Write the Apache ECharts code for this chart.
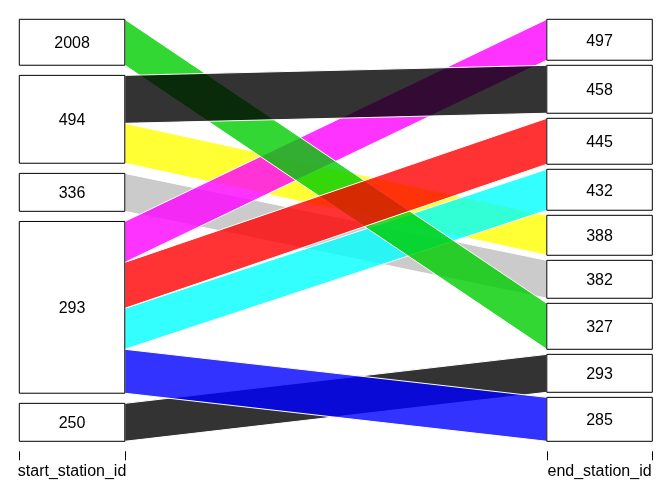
<!DOCTYPE html>
<html>
<head>
<meta charset="utf-8">
<script src="https://cdn.jsdelivr.net/npm/echarts@6/dist/echarts.min.js"></script>
<style>
  html, body {margin: 0; padding: 0; background: #fff;}
  #chart {width: 672px; height: 480px;}
</style>
</head>
<body>
<div id="chart"></div>
<script>
// one row per alluvium, in drawing order (first = bottom layer)
const startIds = ["250", "293", "336", "494", "293", "293", "2008", "293", "494"];
const endIds = ["293", "285", "382", "388", "432", "497", "327", "445", "458"];
const freqs = [38, 44, 38, 40, 41, 41, 46, 46, 48];
const axisNames = ["start_station_id", "end_station_id"];

const flowColors = [
  "rgba(0,0,0,0.8)", "rgba(0,0,255,0.8)", "rgba(190,190,190,0.8)",
  "rgba(255,255,0,0.8)", "rgba(0,255,255,0.8)", "rgba(255,0,255,0.8)",
  "rgba(0,205,0,0.8)", "rgba(255,0,0,0.8)", "rgba(0,0,0,0.8)",
];

const GAP = 0.096;   // share of the axis height used by gaps
const CW = 0.1;      // half width of a stratum box
const total = freqs.reduce((a, b) => a + b, 0);

// stack the alluvia on one axis: strata sorted high to low, inside a stratum by the other axis
const stackAxis = (own, other) => {
  const order = own.map((_, i) => i).sort((a, b) =>
    (Number(own[b]) - Number(own[a])) || (Number(other[b]) - Number(other[a])));
  const nStrata = new Set(own).size;
  const gapEach = GAP / (nStrata - 1);
  const pos = [];
  const boxes = [];
  let y = 0;
  let prev = null;
  order.forEach((idx) => {
    if (prev !== null && own[idx] !== prev) {
      y += gapEach;
    }
    if (own[idx] !== prev) {
      boxes.push({label: own[idx], y0: y, y1: y});
    }
    const h = freqs[idx] / total * (1 - GAP);
    pos[idx] = [y, y + h];
    y += h;
    boxes[boxes.length - 1].y1 = y;
    prev = own[idx];
  });
  return {pos, boxes};
};

const left = stackAxis(startIds, endIds);
const right = stackAxis(endIds, startIds);

const boxData = [];
left.boxes.forEach((b) => boxData.push([1, b.y0, b.y1, b.label]));
right.boxes.forEach((b) => boxData.push([2, b.y0, b.y1, b.label]));

// ticks sit at both edges of every axis box
const tickData = [[1 - CW], [1 + CW], [2 - CW], [2 + CW]];

const chart = echarts.init(document.getElementById("chart"), null, {renderer: "canvas"});

const option = {
  animation: false,
  backgroundColor: "#fff",
  grid: {left: 19.3, right: 19.7, top: 19.3, bottom: 38.7},
  xAxis: {
    type: "value",
    min: 1 - CW,
    max: 2 + CW,
    offset: 10,
    axisLine: {show: false},
    splitLine: {show: false},
    axisTick: {show: false},
    axisLabel: {
      customValues: [1, 2],
      formatter: (v) => axisNames[Math.round(v) - 1],
      margin: 12,
      fontSize: 16,
      fontFamily: "Liberation Sans, Arial, sans-serif",
      color: "#000",
    },
  },
  yAxis: {type: "value", min: 0, max: 1, inverse: true, show: false},
  series: [
    {
      type: "custom",
      name: "flows",
      silent: true,
      data: freqs.map((_, i) => [i]),
      renderItem: (params, api) => {
        const i = api.value(0);
        const l = left.pos[i];
        const r = right.pos[i];
        const points = [
          api.coord([1 + CW, l[0]]),
          api.coord([2 - CW, r[0]]),
          api.coord([2 - CW, r[1]]),
          api.coord([1 + CW, l[1]]),
        ];
        return {
          type: "polygon",
          shape: {points},
          style: {fill: flowColors[i], stroke: "#fff", lineWidth: 1},
        };
      },
    },
    {
      type: "custom",
      name: "strata",
      silent: true,
      data: boxData,
      renderItem: (params, api) => {
        const ax = api.value(0);
        const p0 = api.coord([ax - CW, api.value(1)]);
        const p1 = api.coord([ax + CW, api.value(2)]);
        return {
          type: "group",
          children: [
            {
              type: "rect",
              shape: {x: p0[0], y: p0[1], width: p1[0] - p0[0], height: p1[1] - p0[1]},
              style: {fill: "#fff", stroke: "#000", lineWidth: 1},
            },
            {
              type: "text",
              style: {
                text: boxData[params.dataIndex][3],
                x: (p0[0] + p1[0]) / 2,
                y: (p0[1] + p1[1]) / 2 + 1.5,
                align: "center",
                verticalAlign: "middle",
                fontSize: 16,
                fontFamily: "Liberation Sans, Arial, sans-serif",
                fill: "#000",
              },
            },
          ],
        };
      },
    },
    {
      type: "custom",
      name: "ticks",
      silent: true,
      clip: false,
      data: tickData,
      renderItem: (params, api) => {
        const p = api.coord([api.value(0), 1]);
        const x = Math.round(p[0]) + 0.5;
        return {
          type: "line",
          shape: {x1: x, y1: p[1] + 10, x2: x, y2: p[1] + 19},
          style: {stroke: "#000", lineWidth: 1},
        };
      },
    },
  ],
};

chart.setOption(option);
</script>
</body>
</html>
